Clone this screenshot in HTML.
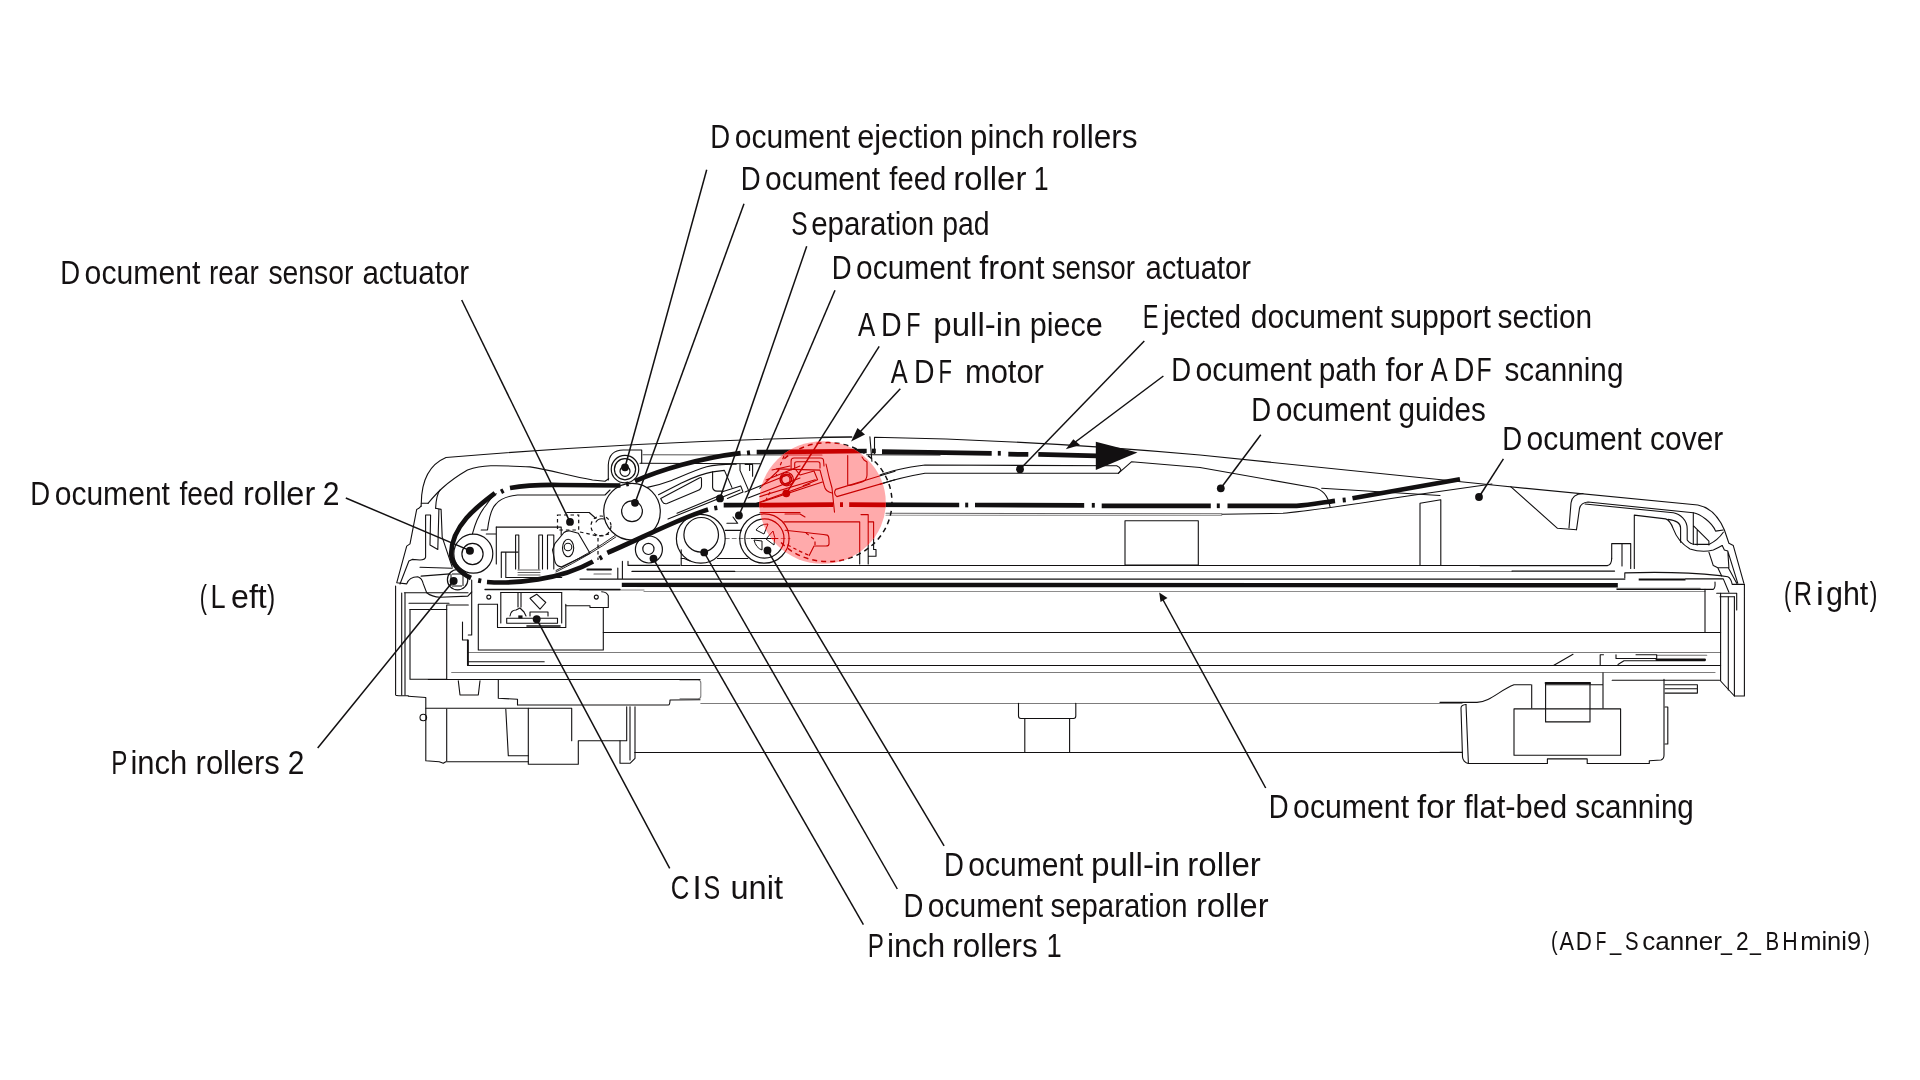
<!DOCTYPE html>
<html><head><meta charset="utf-8"><title>ADF Scanner</title>
<style>
html,body{margin:0;padding:0;background:#fff;overflow:hidden;width:1920px;height:1080px;}
svg{display:block;will-change:transform;}
text{font-family:"Liberation Sans",sans-serif;fill:#141112;stroke:none;}
</style></head>
<body>
<svg width="1920" height="1080" viewBox="0 0 1920 1080">
<defs>
<clipPath id="cc"><ellipse cx="822.5" cy="502.5" rx="63.3" ry="61.3"/></clipPath>
</defs>
<rect width="1920" height="1080" fill="#fff"/>
<g style="color:#121011">
<g id="art">
<!-- ===== thin structure lines ===== -->
<g fill="none" stroke="currentColor" stroke-width="1.1" stroke-linejoin="round" stroke-linecap="round">
<!-- ADF top cover (left part) -->
<path d="M421.1,506.1 L421.3,503 C421.5,485 426,466 446,457.5 Q640,441 851.8,437"/>
<path d="M421.3,503.3 L428,503.3"/>
<!-- inner cover curve -->
<path d="M428,503.3 C435,495 445,483 467.5,470 C485,464 500,465.6 530,466.9 C550,470 570,476 592.5,480 L605,481.2 L608.7,478.8"/>
<path d="M435.6,508.3 C436,500 437,494 440,490"/>
<!-- left housing -->
<path d="M421.1,506.1 Q419,508.5 416.7,509.4 L410,543.9 L406.7,546.1 L396.7,582.8 L406.7,583.9 Q409,577 417.8,576.7 Q422,578 423.3,583.9 L426.7,592.8 Q432,597 440,597.2 L467.8,596.1 L471.7,592"/>
<path d="M435.6,508.3 L441.1,509.4 L442.2,537.2 L452.2,567.2"/>
<path d="M438.9,509.4 L437.8,549.4 L430,545 L430.6,515 L425.6,515 L425.6,557.2 Q425,560 420,560 L412.2,559.4 L408.9,561 L400,584"/>
<path d="M420,567.2 L452.2,568.3"/>
<path d="M421.1,576.1 L450,573.9"/>
<path d="M395.6,586.1 V695 Q396,695.8 399,695.8 H408.3"/>
<path d="M401.7,593 V695 M405,593 V695"/>
<path d="M404.4,592.8 H468"/>
<path d="M410,609.5 V679.2 H446.7 V605 H468.3"/>
<path d="M410,609.5 H446.7"/>
<path d="M409,603.3 H449"/>
<path d="M462.5,622 V640 H468.3 V665"/>
<path d="M471.7,580 V635 H468.3"/>
<!-- guide curves left -->
<path d="M472.5,533.7 C476,520 482,510 486.2,505 C490,499 493,496 496.2,493.7"/>
<path d="M481.2,530 L487.5,530 C489,518 492,507.5 496,504 C500,499 508,496 517.5,495 L605,495 L610,490"/>
<!-- box right of feed roller 2 -->
<path d="M486.3,534 H496.3 M496.3,527.1 V563.9"/>
<path d="M496.3,527.1 H561.2 V535"/>
<path d="M515.6,569 V535 H518.8 V569 M538.8,569 V535 H542.5 V569 M547.5,569 V535 H553.8 V569"/>
<path d="M501.3,577.5 V552.1 H517.9 M505.8,553 V577.5 M506.7,577.5 H561.7"/>
<path d="M518,570 H540 M518,572.5 H540 M518,575 H540" stroke-opacity="0.65"/>
<path d="M556,570.5 Q590,553.5 615,535.5 M556,572 Q590,555 615.8,537" stroke-width="0.9"/>
<!-- rear sensor actuator area -->
<path d="M566.7,512.5 H589.2 L596,518.5"/>
<path d="M555,543.3 L564,532.5 Q566.7,530.3 570,531 L578.3,533.3 L590,553.3 L561.7,566.7 Q557,567 555,562 L552.5,550 Z"/>
<ellipse cx="568.1" cy="548" rx="5.6" ry="8.7"/>
<circle cx="568" cy="547" r="3.8"/>
<path d="M596,522 Q598,518 604,519"/>
<!-- ejection pinch roller housing -->
<path d="M608.3,480 L608.3,465 Q609,450 623.3,450 L641.7,450 L641.7,463.3"/>
<path d="M643,454.8 L822,455" stroke-opacity="0.72"/>
<path d="M640,463.3 L760,463.8"/>
<!-- guide plate + sep pad -->
<path d="M647.4,487.4 C655,486 662,484 670,481 C680,477 695,470 706.7,466.7 C715,464.5 725,464 736.3,464.1"/>
<path d="M658.5,494.8 L680,483.7 C690,479 700,474 712.6,471.9 L724.4,470.4 L731.9,487.4"/>
<path d="M662.2,501.5 L660.7,498.5 L699.3,478 Q701.5,476.5 701.5,479 L701.5,485.9 Q701.5,489 697.8,490.4 L667,503.5 Q664,504.5 662.2,501.5"/>
<path d="M712.6,471.9 L712.6,487.4 Q713,491 717,491.1 L721.5,491.1"/>
<path d="M721.5,491.9 L740.7,485.9 L743,491.9 L727.4,498.5"/>
<path d="M677,513.3 L721.5,494.8 M668,519 L740,490"/>
<path d="M740,464.4 V470.4 L748.9,491.1 M745.2,464.4 H752.6 V476.3 M749.6,464.4 V470.4"/>
<path d="M745,492 L790,474 M748,498 L800,478 M752,505 L810,484"/>
<!-- separation/pull-in roller housing -->
<path d="M681.2,549.7 V565.5 H792.5"/>
<path d="M681.2,558.5 H684.2 L690,561 M717.4,558.5 H747.9"/>
<path d="M725.2,530.4 H741.1"/>
<path d="M726.9,523.3 H737.7 L733,517"/>
<path d="M725.2,538.5 H790" stroke-opacity="0.55" stroke-dasharray="4,3"/>
<path d="M622.4,561.4 V578.5 M628,561.4 V565.4 H680 M617.8,568 V578.5"/>
<path d="M587.4,569.4 H611" stroke-width="2"/>
<path d="M594,574 H611" stroke-opacity="0.65"/>
<path d="M632,571.4 H734.7" stroke-width="1.3"/>
<path d="M580,590 H644" stroke-opacity="0.55"/>
<!-- pull-in piece / motor interior (clipped red mostly) -->
<path d="M791.1,470 V461 Q791.1,458 794,458 L820.5,458 Q823.6,458 823.6,461 L824,466"/>
<path d="M794.7,468 V463.5 Q794.7,461.7 797,461.7 L818,461.7 Q820,461.7 820,464 V468"/>
<path d="M776.7,468.9 L820,470.1 L824.2,485.7 Q825.5,492 832,493"/>
<path d="M826,464 L829,477 L832,488 L834.5,512.2"/>
<path d="M847.7,455.6 V484.5 Q848,486 852,485 L862,482 Q867,480 867,475 V462 L864,460 L862,457"/>
<path d="M835.7,489.4 L895,471.3 M836.9,496.6 L895,479.7 M835.7,489.4 Q833,493.5 836.9,496.6"/>
<circle cx="785.7" cy="479.7" r="5.4"/>
<circle cx="785.7" cy="479.7" r="4.2"/>
<path d="M759.8,488.2 L779,470 M759.8,496.6 L815.2,479.7 M759.8,502.6 L822.4,482.1 M766,480 L800,466 M772,470 L790,466"/>
<path d="M803.2,485.7 L817.6,479.7 L814,471 L800,475 L796,470"/>
<path d="M783.9,521.9 H859.7 V564 M861,514.6 H868.2 V564 M868.2,521.9 H873.6 V549.5 H876 V556.2 H868.2"/>
<path d="M785.1,530.3 L808,532.7 Q820,534 827.2,535.1 Q829,536 829,540 V544 Q829,546 826,546 L814,546 L809.2,555.6"/>
<path d="M785,514 L800,514 L805,517"/>
<path d="M760,512.5 L800,512.5"/>
<!-- main cover (right) -->
<path d="M822.6,437 L851.8,437"/>
<path d="M869.9,436.7 L871.9,461.3"/>
<path d="M874.5,453.5 L874.5,437.3 C1000,439.5 1100,446 1200,455 L1500,485.8 L1697.8,505 C1708,507 1718,515 1724.4,530 L1728.9,543.3 L1733.3,545.6 L1743.9,583.3"/>
<path d="M866.7,454.8 L940,455"/>
<!-- ejected document support -->
<path d="M880,475 C890,471 900,468.3 925,465 L1116.7,465.8 Q1120,467 1121,470 L1118.3,473.3 L925,473.3 C905,476.7 893,480 880,484.2"/>
<path d="M1118.3,473.3 L1131.7,461.7 L1200,467.5"/>
<path d="M1200,467.5 L1313,487.5 C1322,489 1328,495 1330,506.7"/>
<path d="M1321.7,488.3 L1440,495.5"/>
<path d="M1222,514.2 L1283,513.3 C1310,511 1330,507.5 1426.7,493.3 L1492,484"/>
<path d="M1420,565 L1420,503.3 L1440.8,499.7 L1440.8,565"/>
<rect x="1125" y="520.8" width="73.3" height="44.2"/>
<path d="M886,513.3 L1221.7,513.8" stroke-opacity="0.65"/>
<path d="M886,515.3 L1221.7,515.5" stroke-opacity="0.42"/>
<!-- right end of cover -->
<path d="M1510.7,486.6 L1557.5,528.3 L1576.5,529.7"/>
<path d="M1569,528 L1571,503 Q1572,494 1583,493.5"/>
<path d="M1576.5,529.7 L1579.5,508.5 Q1581,502.5 1588,502 L1693.3,512.8 C1700,514 1712,522 1715.6,531.1 L1723.3,530"/>
<path d="M1585,504 L1673.3,512.8 C1680,514 1687.2,520 1687.2,528.9 V540 Q1690,544.4 1695.6,544.4 H1708.9 Q1718,540 1723.3,532.2"/>
<path d="M1634.3,568.5 V515.1 L1665.6,518.9 Q1670,520 1673.3,528.9 Q1678,542 1690,548.9 Q1702,553 1713.3,550 Q1718,548 1722.2,545.6"/>
<path d="M1668,519.4 Q1680.6,521 1680.6,528 V542.2"/>
<path d="M1693.3,512.8 V544.4 M1697.2,530 V545 M1693.3,525.6 L1708.9,541.1 V545"/>
<path d="M1708.9,552.2 L1713.3,565.6 L1717.8,567.8 H1728.3 M1722.2,545.6 L1724.4,550 L1727.8,551.1 L1728.9,567.8 M1717.8,567.8 L1721.7,576.1 M1728.3,567.8 L1736.7,583.3 M1727.8,551.1 L1737.8,583.3"/>
<path d="M1611.7,558.3 V543.6 H1630.7 V568.5 M1622,543.6 V566"/>
<path d="M1480,565.6 H1607.3 Q1611.7,565 1611.7,558.3"/>
<path d="M1512,571.1 H1614.6"/>
<path d="M1624.8,578 V572.9 Q1676.7,571 1720,575.6 L1727.8,576.7 Q1731,578 1732.2,584.4 H1744.4"/>
<path d="M1685.6,578.9 H1723.3 L1728.9,592.2"/>
<path d="M1617,589.4 H1713.3 Q1715.5,588 1715,582"/>
<path d="M1716.7,593.3 H1736.7 V610 M1720,596.7 H1734.4"/>
<!-- right verticals -->
<path d="M1705,589.4 V632"/>
<path d="M1720.6,593.3 V681 L1734.4,696"/>
<path d="M1728.3,596.7 V690"/>
<path d="M1734.4,596.7 V696 H1744.4 V584.4"/>
<!-- horizontal structure lines -->
<path d="M792.5,565.5 H1607"/>
<path d="M734.7,571.5 H1512" stroke-opacity="0.55"/>
<path d="M580,579.1 H1624.8" stroke-width="1.4"/>
<path d="M485,589.5 H620" stroke-width="1.4"/>
<path d="M1617,588.6 H1700" stroke-opacity="0.48" stroke-width="1.5"/>
<path d="M644,591.5 H1705" stroke-opacity="0.48"/>
<path d="M603.3,632.5 H1720.6"/>
<path d="M468.3,652.5 H1720.6" stroke-opacity="0.55"/>
<path d="M467.5,665.5 H1720.6"/>
<path d="M467.5,661.7 H544.2"/>
<path d="M451.7,672.5 H1715" stroke-opacity="0.55"/>
<path d="M428.3,679.5 H700"/>
<path d="M700.8,703.5 H1462" stroke-opacity="0.55"/>
<path d="M635,752.5 H1462"/>
<!-- CIS unit -->
<path d="M500.8,592.5 H561.7"/>
<path d="M497.5,604.2 V627.5 H565.8 V604.2"/>
<path d="M478.3,604.2 H497.5 M478.3,604.2 V650 H603.3 V607.5 H608.3 V595.8 Q607,592 601.7,591.7"/>
<path d="M565.8,605.8 H590 V607.5 H603.3"/>
<path d="M500.8,592.5 V623 M561.7,592.5 V623"/>
<path d="M506.7,618.3 H557.5 V623.3 H506.7 Z"/>
<path d="M510,616 Q511,610 516,610 L520,608 L524,612 L526,616 M530,616 V612 H548 V616"/>
<path d="M518,593 V607 M521,593 V607"/>
<path d="M530,598.3 L536.7,594.2 L545.8,602.5 L540,609.2 Z"/>
<path d="M527,626 H560" stroke-width="1.6"/>
<circle cx="488.8" cy="597.1" r="2"/>
<circle cx="596.3" cy="597.1" r="2"/>
<!-- lower left body -->
<path d="M408.3,696.3 L425.8,697.5 V760.8 L439.2,761.7 L443.3,763.3 L445.8,761.7 H528.3"/>
<circle cx="423.3" cy="717.5" r="3.3"/>
<path d="M446.7,709 V760.8"/>
<path d="M505.8,709.2 L508.3,755.8 H528.3"/>
<path d="M528.3,708.3 V764.2 H578.3 V740.8 H626.7 V706.7"/>
<path d="M425.8,708.3 H571.7 V740.8"/>
<path d="M620,740.8 V763.3 H630 L635,758.3 V706.7"/>
<path d="M635,752.5 H700"/>
<path d="M630,706.7 V760"/>
<path d="M518.3,705 H668.3 Q670,705 670,700 L700,699.7"/>
<path d="M498.3,680 V698.3 L517.5,699.2 V705"/>
<path d="M458.3,680.8 L460,695 H478.3 L480,680.8"/>
<path d="M467.5,640 V665"/>
<path d="M680,680 H698 Q700.8,680 700.8,683 V696 Q700.8,698.8 698,698.8 H680" stroke-opacity="0.55"/>
<!-- lower middle brackets -->
<path d="M1018.5,703.3 V716 Q1018.5,718.5 1021,718.5 H1073.5 Q1075.8,718.5 1075.8,716 V703.3"/>
<path d="M1024.8,718.5 V752.5 M1069.6,718.5 V752.5"/>
<!-- lower right body -->
<path d="M1440,702.4 H1477 C1490,702 1500,690 1514,684.8 H1530.7"/>
<path d="M1466,704.5 L1468.4,763.5 H1547.4 V758.9 H1587.2 V763.5 H1649.3 V760.7 L1661,760 Q1664,759 1664,755 V679.3"/>
<path d="M1466,704.5 Q1461,705 1461,708 L1462.5,757 Q1463,762 1468.4,763.5"/>
<path d="M1553.5,665.4 L1573,654.3"/>
<path d="M1600.2,664.5 V654.8 H1603.5 M1616,654.8 V658.5 H1656 M1636,654.8 H1656.7 V658.5"/>
<path d="M1656.7,655.2 H1706.7" stroke-opacity="0.6"/>
<path d="M1656.7,659.8 H1704.8" stroke-width="2.4"/>
<path d="M1618,664.5 L1624,660.8 H1704.8"/>
<path d="M1440,752.4 H1462.2"/>
<path d="M1531.7,684.8 V708"/>
<path d="M1545.6,683 H1590 V721.9 H1545.6 Z"/>
<path d="M1545.6,683 H1590" stroke-width="2"/>
<path d="M1514,708.9 H1620.6 V755.2 H1514 Z"/>
<path d="M1545.6,684.8 H1603 V672.8 M1603,684.8 V708"/>
<path d="M1612.2,680.2 H1719.6"/>
<path d="M1665,684.8 H1697.4 M1665,688.8 H1697.4 M1665,693.1 H1697.4 V684.8"/>
<path d="M1665,707 H1667.8 V744 H1665"/>
</g>
<!-- dashed ADF motor outline -->
<path d="M784.3,458.6 A64,59.5 0 1 1 780.3,541.8" fill="none" stroke="currentColor" stroke-width="1.5" stroke-dasharray="5,4"/>
<g fill="none" stroke="currentColor" stroke-width="1.2" stroke-dasharray="3.5,3">
<path d="M557.5,515 H578.7 V530 H557.5 Z"/>
<circle cx="601" cy="526" r="10"/>
<path d="M580,532 L598,536 L610,534"/>
<path d="M598,538 V560"/>
<path d="M787.5,544.7 Q800,552 810.4,555.6"/>
<path d="M806,533 L815,540 L815,546"/>
<path d="M784,456 L776,476 M770,492 L766,500"/>
</g>
<!-- rollers -->
<g fill="none" stroke="currentColor" stroke-width="1.2">
<circle cx="625" cy="469.2" r="13.75"/>
<circle cx="625" cy="469.2" r="10.6"/>
<circle cx="625" cy="471.3" r="5"/>
<circle cx="632" cy="511.7" r="28.3"/>
<circle cx="632" cy="511.3" r="10.4"/>
<circle cx="473.3" cy="553.7" r="19.5"/>
<circle cx="472.5" cy="554" r="10.6"/>
<circle cx="457.6" cy="579.7" r="10.2"/>
<path d="M452,574 H462 M452,586 H462 M451,574 V586 M463,574 V586" stroke-width="1"/>
<circle cx="648.9" cy="549.5" r="13.5"/>
<circle cx="648.4" cy="548.9" r="5.6"/>
<circle cx="700.8" cy="538.8" r="24.4"/>
<circle cx="701.2" cy="534.8" r="17.3"/>
<circle cx="764.4" cy="538.5" r="24.7"/>
<circle cx="764.4" cy="538.5" r="19.6"/>
<path d="M756,530 Q760,524 768,524 L764,534 Z M773,531 Q776,537 774,545 L766,539 Z M754,540 Q756,548 762,550 L762,541 Z" stroke-width="1"/>
<path d="M751,538.5 H778" stroke-width="1"/>
<circle cx="786.7" cy="479.2" r="6.7"/>
<circle cx="786.7" cy="479.2" r="5"/>
</g>
<!-- thick paper paths -->
<g fill="none" stroke="currentColor" stroke-width="4.7" stroke-linecap="butt">
<path d="M495,493.2 C478,506 452,525 451.2,553.3 C451,562 458,572 471,578"/>
<path d="M510,488 Q530,484.5 560,485 L620.5,485.5"/>
<path d="M635,481.2 C660,470 700,458 740.6,453.1"/>
<path d="M756.7,452.2 L866.7,451"/>
<path d="M882,451.6 L991.7,453.3"/>
<path d="M1008.3,454.2 L1028.3,454.4"/>
<path d="M1038.3,454.4 L1097,455.8"/>
<path d="M487,582 C515,584 560,580 593,561.5"/>
<path d="M607.3,552.8 C640,539 680,518 708.1,509.6"/>
<path d="M723.7,505.2 L833.3,504.7"/>
<path d="M849.2,504.7 L959.2,505"/>
<path d="M975,505 L1084.2,505.3"/>
<path d="M1101.7,505.8 L1210.8,505.8"/>
<path d="M1227.5,505.8 L1296.7,505.8 C1310,505 1325,502 1335,500.8"/>
<path d="M1352.5,498.3 Q1400,490 1460,479.2"/>
<path d="M621.8,584.9 L1617.8,585.3" stroke-width="4.4"/>
<path d="M1638.7,579.5 L1685.5,579.5" stroke-width="2"/>
<!-- dots of dash-dot -->
<path d="M501,491.8 L503.5,490.5"/>
<path d="M626,484.3 L628.5,483.7"/>
<path d="M747,453 L750,452.6"/>
<path d="M871.9,451 L875.8,451"/>
<path d="M997.8,453.3 L1000.8,453.3"/>
<path d="M478.2,580.4 L481.2,581"/>
<path d="M599.5,558.3 L602,557"/>
<path d="M714.3,508.3 L717.3,507.8"/>
<path d="M840,504.7 L843,504.7"/>
<path d="M965.2,505 L968.2,505"/>
<path d="M1091.8,505.3 L1094.8,505.3"/>
<path d="M1216.8,505.8 L1219.8,505.8"/>
<path d="M1342.7,500.1 L1345.7,499.8"/>
</g>
<polygon points="1095.8,441.7 1095.8,470 1137.5,452.5" fill="currentColor"/>
<!-- leader lines -->
<g fill="none" stroke="currentColor" stroke-width="1.5">
<path d="M706.7,169.8 L625,467.3"/>
<path d="M744,203.8 L635,502.9"/>
<path d="M806.7,246.3 L720,498.3"/>
<path d="M835,290.3 L739,515.3"/>
<path d="M461.7,300 L570,521.9"/>
<path d="M879.2,346.4 L786.3,493.3"/>
<path d="M900.3,388.7 L860,432"/>
<path d="M1144.3,341 L1020,469.2"/>
<path d="M1163.4,376 L1074,443"/>
<path d="M1260.8,434.7 L1220.8,488.3"/>
<path d="M1503.4,458.8 L1479,497"/>
<path d="M345.8,498 L470,550.6"/>
<path d="M317.7,748 L453.1,581.25"/>
<path d="M669.7,868.4 L536.7,619.2"/>
<path d="M863.4,924.6 L653.3,558.7"/>
<path d="M897.3,889 L704.2,552.5"/>
<path d="M944.1,845.8 L767.5,550.4"/>
<path d="M1265.7,788 L1162,598"/>
</g>
<g fill="currentColor">
<polygon points="851.1,441.5 857.5,428 865,434.5"/>
<polygon points="1065.8,449.2 1073.3,439.2 1080,445"/>
<polygon points="1159.2,592.5 1160.5,602 1167.5,598"/>
<circle cx="625" cy="467.3" r="3.9"/>
<circle cx="635" cy="502.8" r="3.9"/>
<circle cx="720" cy="498.4" r="3.9"/>
<circle cx="738.9" cy="515.5" r="3.9"/>
<circle cx="570" cy="521.9" r="3.9"/>
<circle cx="786.3" cy="493.3" r="3.9"/>
<circle cx="1020" cy="469.2" r="3.9"/>
<circle cx="1220.8" cy="488.3" r="3.9"/>
<circle cx="1479" cy="497" r="3.9"/>
<circle cx="469.9" cy="550.7" r="4"/>
<circle cx="453.6" cy="580.9" r="4"/>
<circle cx="536.7" cy="619.2" r="3.9"/>
<circle cx="653.5" cy="558.6" r="3.9"/>
<circle cx="704.2" cy="552.4" r="3.9"/>
<circle cx="767.5" cy="550.4" r="3.9"/>
<rect x="518.3" y="615.4" width="4.2" height="3" />
</g>

</g>
</g>
<ellipse cx="822.5" cy="502.5" rx="63.3" ry="61.3" fill="#ffaaab"/>
<use href="#art" style="color:#c80000" clip-path="url(#cc)"/>
<g>
<text x="710.37" y="148.20" font-size="34" textLength="19.88" lengthAdjust="spacingAndGlyphs">D</text>
<text x="734.72" y="148.20" font-size="34" textLength="115.34" lengthAdjust="spacingAndGlyphs">ocument</text>
<text x="857.20" y="148.20" font-size="34" textLength="105.87" lengthAdjust="spacingAndGlyphs">ejection</text>
<text x="970.06" y="148.20" font-size="34" textLength="74.62" lengthAdjust="spacingAndGlyphs">pinch</text>
<text x="1051.54" y="148.20" font-size="34" textLength="86.08" lengthAdjust="spacingAndGlyphs">rollers</text>
<text x="740.67" y="190.30" font-size="34" textLength="19.88" lengthAdjust="spacingAndGlyphs">D</text>
<text x="765.02" y="190.30" font-size="34" textLength="115.04" lengthAdjust="spacingAndGlyphs">ocument</text>
<text x="889.30" y="190.30" font-size="34" textLength="56.97" lengthAdjust="spacingAndGlyphs">feed</text>
<text x="953.27" y="190.30" font-size="34" textLength="73.08" lengthAdjust="spacingAndGlyphs">roller</text>
<text x="1033.83" y="190.30" font-size="34" textLength="14.87" lengthAdjust="spacingAndGlyphs">1</text>
<text x="791.16" y="235.00" font-size="34" textLength="16.35" lengthAdjust="spacingAndGlyphs">S</text>
<text x="811.13" y="235.00" font-size="34" textLength="122.90" lengthAdjust="spacingAndGlyphs">eparation</text>
<text x="942.13" y="235.00" font-size="34" textLength="47.30" lengthAdjust="spacingAndGlyphs">pad</text>
<text x="831.77" y="279.00" font-size="34" textLength="19.88" lengthAdjust="spacingAndGlyphs">D</text>
<text x="856.12" y="279.00" font-size="34" textLength="114.64" lengthAdjust="spacingAndGlyphs">ocument</text>
<text x="979.30" y="279.00" font-size="34" textLength="65.14" lengthAdjust="spacingAndGlyphs">front</text>
<text x="1051.68" y="279.00" font-size="34" textLength="83.36" lengthAdjust="spacingAndGlyphs">sensor</text>
<text x="1145.44" y="279.00" font-size="34" textLength="105.64" lengthAdjust="spacingAndGlyphs">actuator</text>
<text x="60.27" y="284.30" font-size="34" textLength="19.88" lengthAdjust="spacingAndGlyphs">D</text>
<text x="84.61" y="284.30" font-size="34" textLength="115.75" lengthAdjust="spacingAndGlyphs">ocument</text>
<text x="209.06" y="284.30" font-size="34" textLength="49.63" lengthAdjust="spacingAndGlyphs">rear</text>
<text x="268.47" y="284.30" font-size="34" textLength="84.87" lengthAdjust="spacingAndGlyphs">sensor</text>
<text x="362.43" y="284.30" font-size="34" textLength="106.75" lengthAdjust="spacingAndGlyphs">actuator</text>
<text x="858.00" y="335.70" font-size="34" textLength="17.25" lengthAdjust="spacingAndGlyphs">A</text>
<text x="880.98" y="335.70" font-size="34" textLength="20.62" lengthAdjust="spacingAndGlyphs">D</text>
<text x="906.24" y="335.70" font-size="34" textLength="14.29" lengthAdjust="spacingAndGlyphs">F</text>
<text x="933.36" y="335.70" font-size="34" textLength="88.19" lengthAdjust="spacingAndGlyphs">pull-in</text>
<text x="1029.80" y="335.70" font-size="34" textLength="73.03" lengthAdjust="spacingAndGlyphs">piece</text>
<text x="890.80" y="382.80" font-size="34" textLength="16.95" lengthAdjust="spacingAndGlyphs">A</text>
<text x="913.89" y="382.80" font-size="34" textLength="20.50" lengthAdjust="spacingAndGlyphs">D</text>
<text x="938.46" y="382.80" font-size="34" textLength="13.44" lengthAdjust="spacingAndGlyphs">F</text>
<text x="964.88" y="382.80" font-size="34" textLength="79.05" lengthAdjust="spacingAndGlyphs">motor</text>
<text x="1142.72" y="328.40" font-size="34" textLength="15.74" lengthAdjust="spacingAndGlyphs">E</text>
<text x="1162.96" y="328.40" font-size="34" textLength="78.12" lengthAdjust="spacingAndGlyphs">jected</text>
<text x="1250.82" y="328.40" font-size="34" textLength="131.96" lengthAdjust="spacingAndGlyphs">document</text>
<text x="1390.21" y="328.40" font-size="34" textLength="100.65" lengthAdjust="spacingAndGlyphs">support</text>
<text x="1497.62" y="328.40" font-size="34" textLength="94.48" lengthAdjust="spacingAndGlyphs">section</text>
<text x="1171.17" y="380.80" font-size="34" textLength="19.88" lengthAdjust="spacingAndGlyphs">D</text>
<text x="1195.51" y="380.80" font-size="34" textLength="116.25" lengthAdjust="spacingAndGlyphs">ocument</text>
<text x="1318.75" y="380.80" font-size="34" textLength="57.95" lengthAdjust="spacingAndGlyphs">path</text>
<text x="1385.60" y="380.80" font-size="34" textLength="37.86" lengthAdjust="spacingAndGlyphs">for</text>
<text x="1430.70" y="380.80" font-size="34" textLength="16.95" lengthAdjust="spacingAndGlyphs">A</text>
<text x="1453.78" y="380.80" font-size="34" textLength="20.62" lengthAdjust="spacingAndGlyphs">D</text>
<text x="1476.41" y="380.80" font-size="34" textLength="15.15" lengthAdjust="spacingAndGlyphs">F</text>
<text x="1504.53" y="380.80" font-size="34" textLength="118.89" lengthAdjust="spacingAndGlyphs">scanning</text>
<text x="1251.32" y="420.80" font-size="34" textLength="19.88" lengthAdjust="spacingAndGlyphs">D</text>
<text x="1275.67" y="420.80" font-size="34" textLength="115.09" lengthAdjust="spacingAndGlyphs">ocument</text>
<text x="1398.53" y="420.80" font-size="34" textLength="87.29" lengthAdjust="spacingAndGlyphs">guides</text>
<text x="1502.17" y="449.70" font-size="34" textLength="19.88" lengthAdjust="spacingAndGlyphs">D</text>
<text x="1526.52" y="449.70" font-size="34" textLength="115.09" lengthAdjust="spacingAndGlyphs">ocument</text>
<text x="1650.12" y="449.70" font-size="34" textLength="73.10" lengthAdjust="spacingAndGlyphs">cover</text>
<text x="30.32" y="504.50" font-size="34" textLength="19.88" lengthAdjust="spacingAndGlyphs">D</text>
<text x="54.67" y="504.50" font-size="34" textLength="115.29" lengthAdjust="spacingAndGlyphs">ocument</text>
<text x="179.40" y="504.50" font-size="34" textLength="54.90" lengthAdjust="spacingAndGlyphs">feed</text>
<text x="242.98" y="504.50" font-size="34" textLength="72.35" lengthAdjust="spacingAndGlyphs">roller</text>
<text x="322.83" y="504.50" font-size="34" textLength="16.76" lengthAdjust="spacingAndGlyphs">2</text>
<text x="199.73" y="608.30" font-size="34" textLength="7.17" lengthAdjust="spacingAndGlyphs">(</text>
<text x="210.50" y="608.30" font-size="34" textLength="15.12" lengthAdjust="spacingAndGlyphs">L</text>
<text x="231.06" y="608.30" font-size="34" textLength="35.71" lengthAdjust="spacingAndGlyphs">eft</text>
<text x="266.88" y="608.30" font-size="34" textLength="8.21" lengthAdjust="spacingAndGlyphs">)</text>
<text x="1783.93" y="604.70" font-size="34" textLength="7.17" lengthAdjust="spacingAndGlyphs">(</text>
<text x="1793.86" y="604.70" font-size="34" textLength="18.29" lengthAdjust="spacingAndGlyphs">R</text>
<text x="1815.93" y="604.70" font-size="34" textLength="7.80" lengthAdjust="spacingAndGlyphs">i</text>
<text x="1826.01" y="604.70" font-size="34" textLength="42.23" lengthAdjust="spacingAndGlyphs">ght</text>
<text x="1869.73" y="604.70" font-size="34" textLength="7.65" lengthAdjust="spacingAndGlyphs">)</text>
<text x="111.17" y="773.80" font-size="34" textLength="16.12" lengthAdjust="spacingAndGlyphs">P</text>
<text x="130.48" y="773.80" font-size="34" textLength="56.88" lengthAdjust="spacingAndGlyphs">inch</text>
<text x="195.58" y="773.80" font-size="34" textLength="84.23" lengthAdjust="spacingAndGlyphs">rollers</text>
<text x="287.84" y="773.80" font-size="34" textLength="16.64" lengthAdjust="spacingAndGlyphs">2</text>
<text x="1268.77" y="817.80" font-size="34" textLength="19.88" lengthAdjust="spacingAndGlyphs">D</text>
<text x="1293.11" y="817.80" font-size="34" textLength="115.95" lengthAdjust="spacingAndGlyphs">ocument</text>
<text x="1417.00" y="817.80" font-size="34" textLength="38.47" lengthAdjust="spacingAndGlyphs">for</text>
<text x="1464.00" y="817.80" font-size="34" textLength="103.18" lengthAdjust="spacingAndGlyphs">flat-bed</text>
<text x="1575.33" y="817.80" font-size="34" textLength="118.48" lengthAdjust="spacingAndGlyphs">scanning</text>
<text x="943.97" y="875.50" font-size="34" textLength="19.88" lengthAdjust="spacingAndGlyphs">D</text>
<text x="968.32" y="875.50" font-size="34" textLength="115.14" lengthAdjust="spacingAndGlyphs">ocument</text>
<text x="1091.04" y="875.50" font-size="34" textLength="88.92" lengthAdjust="spacingAndGlyphs">pull-in</text>
<text x="1187.35" y="875.50" font-size="34" textLength="73.49" lengthAdjust="spacingAndGlyphs">roller</text>
<text x="670.69" y="899.10" font-size="34" textLength="18.59" lengthAdjust="spacingAndGlyphs">C</text>
<text x="692.40" y="899.10" font-size="34" textLength="9.14" lengthAdjust="spacingAndGlyphs">I</text>
<text x="703.53" y="899.10" font-size="34" textLength="16.71" lengthAdjust="spacingAndGlyphs">S</text>
<text x="730.48" y="899.10" font-size="34" textLength="52.49" lengthAdjust="spacingAndGlyphs">unit</text>
<text x="903.47" y="916.50" font-size="34" textLength="19.88" lengthAdjust="spacingAndGlyphs">D</text>
<text x="927.82" y="916.50" font-size="34" textLength="115.24" lengthAdjust="spacingAndGlyphs">ocument</text>
<text x="1050.54" y="916.50" font-size="34" textLength="136.99" lengthAdjust="spacingAndGlyphs">separation</text>
<text x="1196.08" y="916.50" font-size="34" textLength="72.46" lengthAdjust="spacingAndGlyphs">roller</text>
<text x="867.67" y="956.90" font-size="34" textLength="16.12" lengthAdjust="spacingAndGlyphs">P</text>
<text x="886.93" y="956.90" font-size="34" textLength="58.38" lengthAdjust="spacingAndGlyphs">inch</text>
<text x="952.25" y="956.90" font-size="34" textLength="85.47" lengthAdjust="spacingAndGlyphs">rollers</text>
<text x="1046.49" y="956.90" font-size="34" textLength="15.25" lengthAdjust="spacingAndGlyphs">1</text>
<text x="1550.97" y="950.30" font-size="26" textLength="6.64" lengthAdjust="spacingAndGlyphs">(</text>
<text x="1559.60" y="950.30" font-size="26" textLength="14.44" lengthAdjust="spacingAndGlyphs">A</text>
<text x="1575.78" y="950.30" font-size="26" textLength="16.14" lengthAdjust="spacingAndGlyphs">D</text>
<text x="1595.76" y="950.30" font-size="26" textLength="10.62" lengthAdjust="spacingAndGlyphs">F</text>
<text x="1610.00" y="950.30" font-size="26" textLength="11.27" lengthAdjust="spacingAndGlyphs">_</text>
<text x="1625.02" y="950.30" font-size="26" textLength="13.53" lengthAdjust="spacingAndGlyphs">S</text>
<text x="1642.30" y="950.30" font-size="26" textLength="79.57" lengthAdjust="spacingAndGlyphs">canner</text>
<text x="1721.00" y="950.30" font-size="26" textLength="10.98" lengthAdjust="spacingAndGlyphs">_</text>
<text x="1736.03" y="950.30" font-size="26" textLength="12.65" lengthAdjust="spacingAndGlyphs">2</text>
<text x="1750.10" y="950.30" font-size="26" textLength="10.98" lengthAdjust="spacingAndGlyphs">_</text>
<text x="1765.43" y="950.30" font-size="26" textLength="13.63" lengthAdjust="spacingAndGlyphs">B</text>
<text x="1782.26" y="950.30" font-size="26" textLength="15.40" lengthAdjust="spacingAndGlyphs">H</text>
<text x="1800.14" y="950.30" font-size="26" textLength="60.97" lengthAdjust="spacingAndGlyphs">mini9</text>
<text x="1864.10" y="950.30" font-size="26" textLength="5.56" lengthAdjust="spacingAndGlyphs">)</text>
</g>
</svg>
</body></html>
